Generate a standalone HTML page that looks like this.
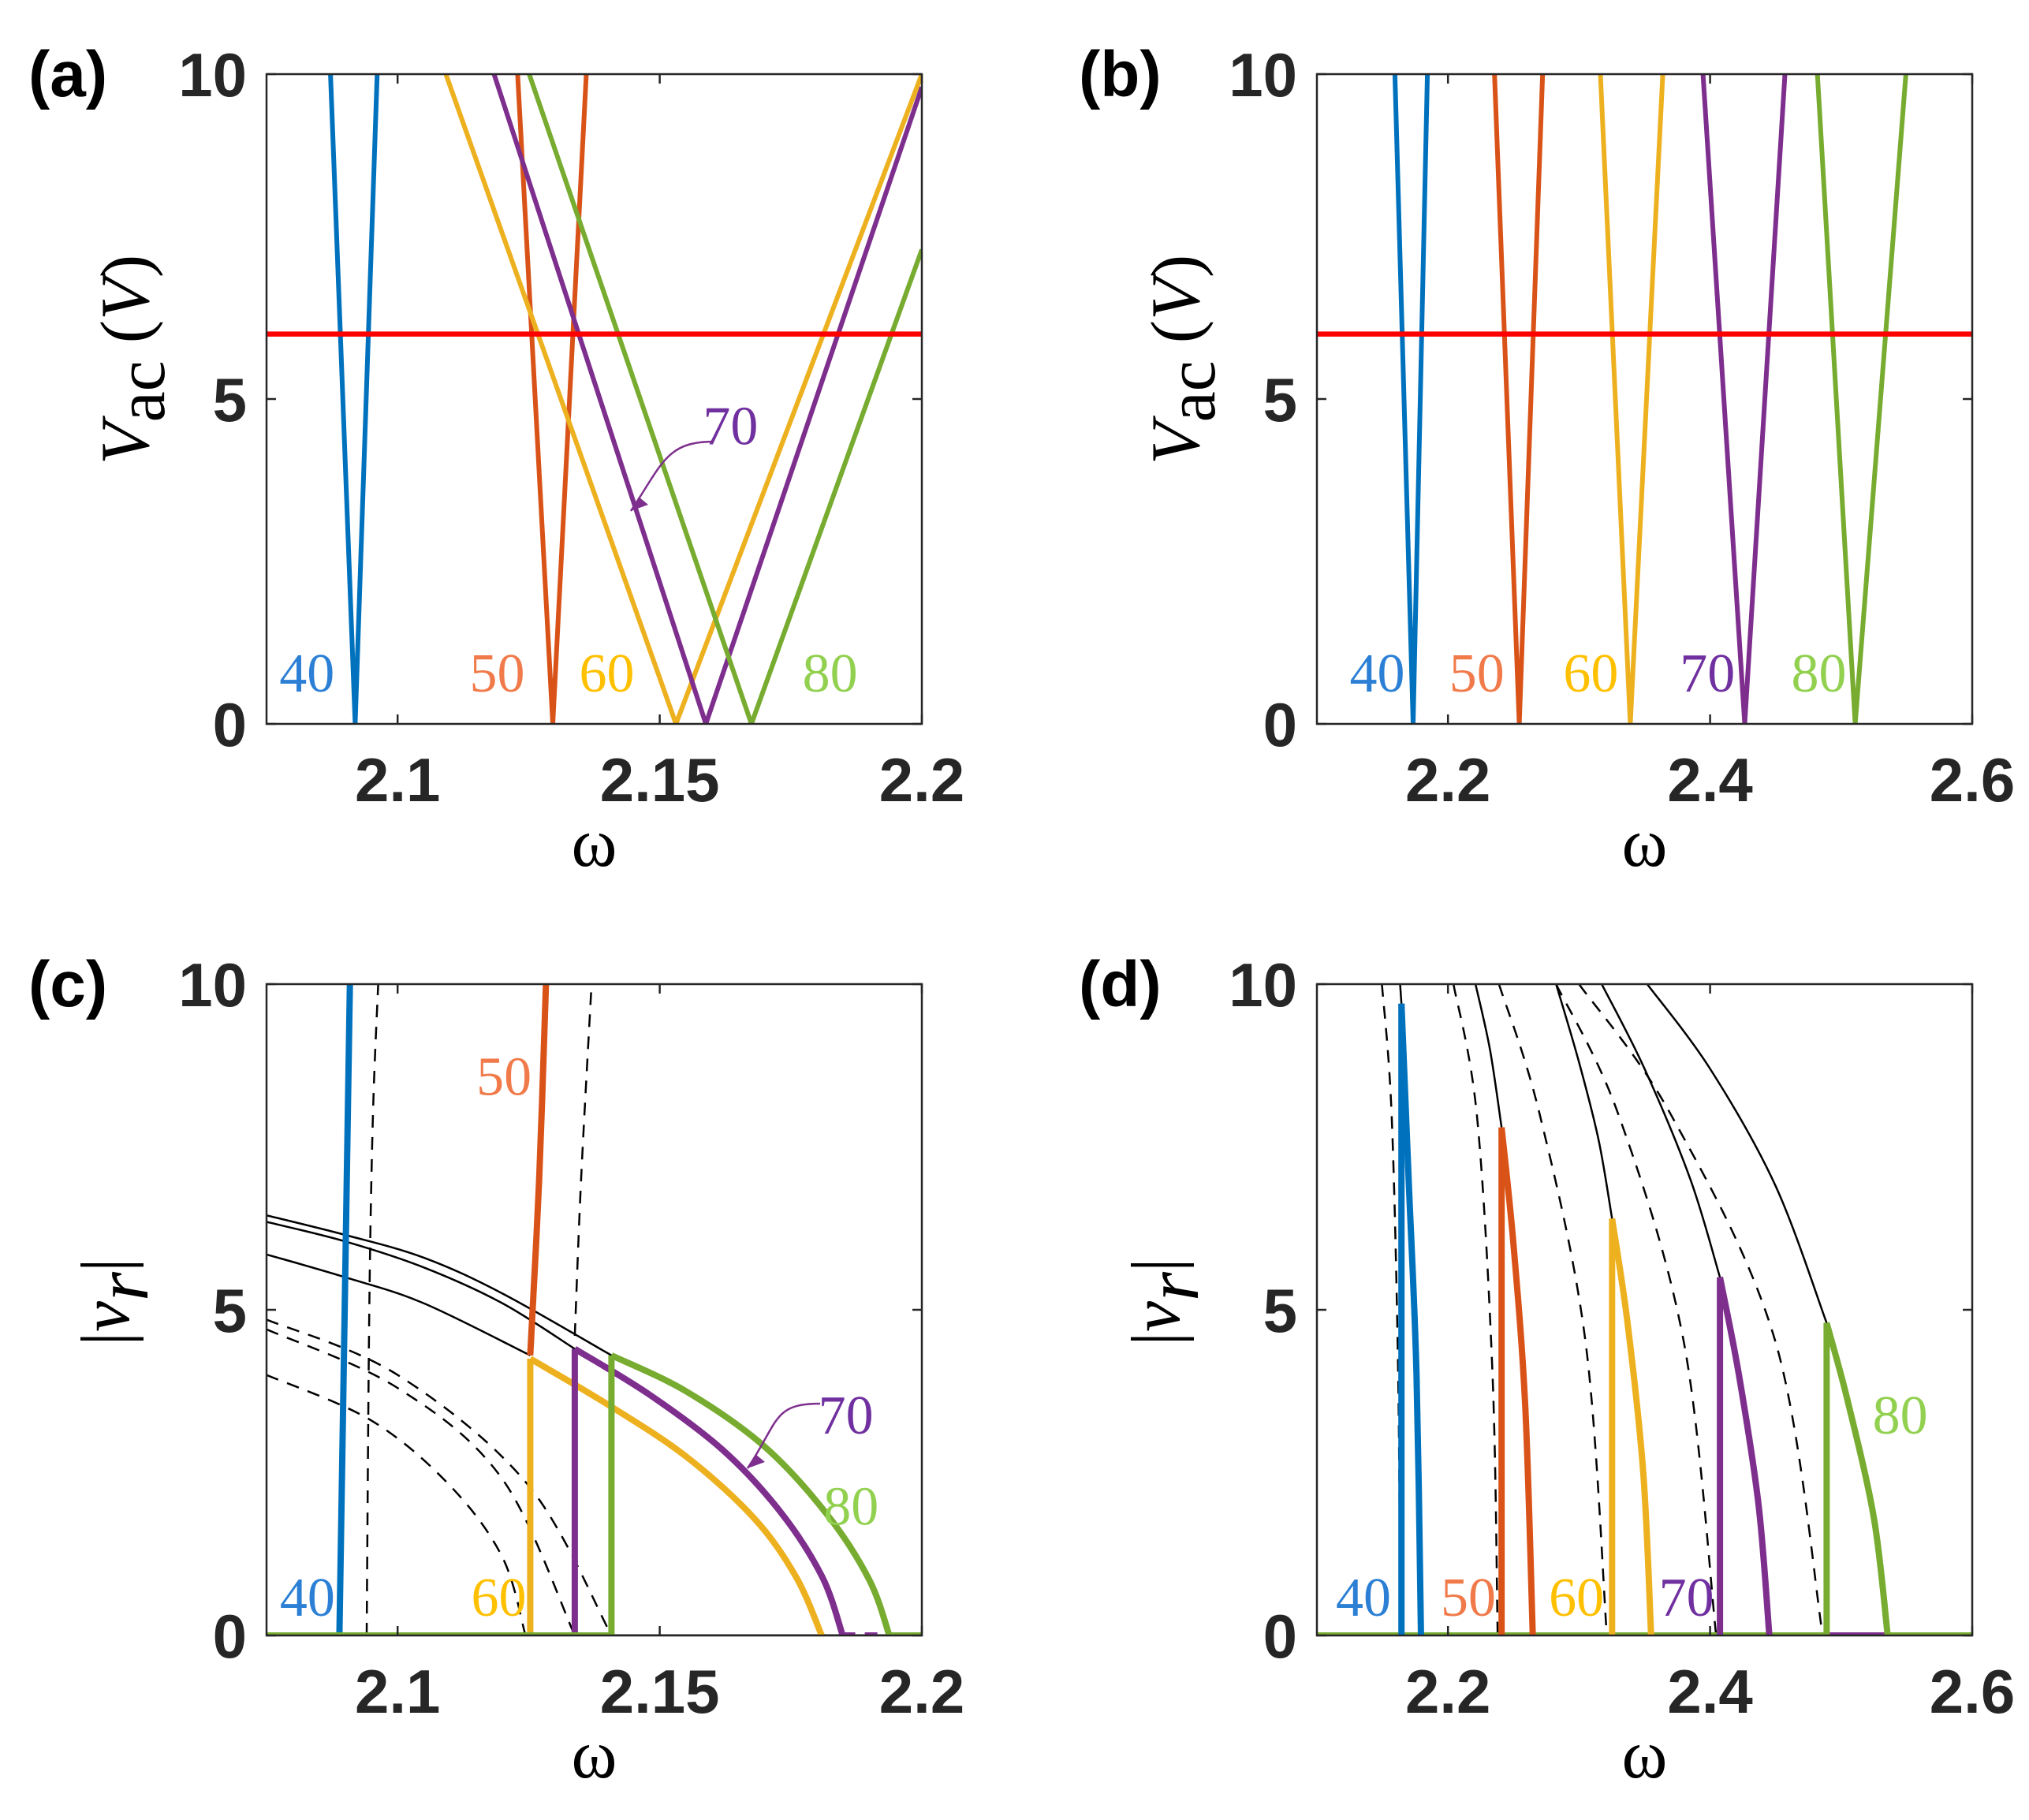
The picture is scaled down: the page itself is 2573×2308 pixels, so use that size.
<!DOCTYPE html>
<html><head><meta charset="utf-8"><style>
html,body{margin:0;padding:0;background:#fff}
svg{display:block}
.tk{font-family:"Liberation Sans",Arial,sans-serif;font-weight:bold;font-size:78px;fill:#262626}
.pl{font-family:"Liberation Sans",Arial,sans-serif;font-weight:bold;font-size:82px;fill:#000}
.ser{font-family:"Liberation Serif",serif;font-size:70px}
.ax{font-family:"Liberation Serif",serif;font-size:88px;fill:#000}
</style></head><body>
<svg id="fig" width="2573" height="2308" viewBox="0 0 2573 2308" xmlns="http://www.w3.org/2000/svg"></svg>
<script>
// ---- data ----
const seriesNames=["40","50","60","70","80"];
const colors=["#0072BD","#D95319","#EDB120","#7E2F8E","#77AC30"];
const labelColors=["#2b7fd4","#f07a4a","#ffc000","#7030a0","#92d050"];
const yTicks=[0,5,10];
const xTicksA=[2.1,2.15,2.2];
const xTicksB=[2.2,2.4,2.6];
const redLevel=6;
// panel a: V-shapes
const aLeft=[2.0872,2.1229,2.1092,2.1184,2.1251];
const aVertex=[2.0919,2.1296,2.1531,2.1588,2.1675];
const aRight=[2.0961,2.1360,2.2,2.2,2.2];
const aRightV=[10,10,10,9.8,7.3];
// panel b
const bLeft=[2.1595,2.2355,2.3163,2.3946,2.4819];
const bVertex=[2.1734,2.2544,2.3391,2.4264,2.5107];
const bRight=[2.1843,2.2722,2.3639,2.4571,2.5494];
// panel c
const cBlue=[[2.0889,0],[2.0899,5],[2.0909,10]];
const cDashBlue=[[2.0941,0],[2.0946,5],[2.0953,8],[2.0963,10]];
const cOrange=[[2.1253,4.3],[2.1270,7],[2.1283,10]];
const cDashOrange=[[2.1338,4.6],[2.1350,7],[2.1370,10]];
const cSolid=[
 [[2.075,5.85],[2.09,5.5],[2.105,5.1],[2.1253,4.3]],
 [[2.075,6.35],[2.09,6.05],[2.105,5.65],[2.12,5.1],[2.1338,4.4]],
 [[2.075,6.45],[2.09,6.15],[2.105,5.8],[2.12,5.25],[2.1408,4.3]]];
const cDashed=[
 [[2.075,4.0],[2.095,3.3],[2.11,2.3],[2.12,1.2],[2.1244,0]],
 [[2.075,4.7],[2.10,3.8],[2.12,2.4],[2.1338,0]],
 [[2.075,4.85],[2.10,4.0],[2.125,2.3],[2.1408,0]]];
const cUpperIdx=[2,3,4];
const cJump=[2.1253,2.1338,2.1408];
const cUpper=[
 [[2.1253,4.25],[2.14,3.55],[2.155,2.75],[2.168,1.8],[2.176,0.9],[2.1809,0]],
 [[2.1338,4.4],[2.148,3.7],[2.162,2.85],[2.173,1.9],[2.181,0.9],[2.1849,0]],
 [[2.1408,4.3],[2.155,3.75],[2.17,2.9],[2.182,1.85],[2.190,0.85],[2.1938,0]]];
// panel d
const dJump=[2.1645,2.2409,2.3252,2.4075,2.4889];
const dUpper=[
 [[2.1645,9.7],[2.170,7],[2.176,4],[2.1794,0]],
 [[2.2409,7.8],[2.250,6],[2.259,3.5],[2.2647,0]],
 [[2.3252,6.4],[2.337,4.8],[2.349,2.5],[2.355,0]],
 [[2.4075,5.5],[2.422,4],[2.437,2],[2.4452,0]],
 [[2.4889,4.8],[2.505,3.6],[2.525,1.8],[2.5355,0]]];
const dSolid=[
 [[2.1635,10],[2.1645,9.7]],
 [[2.2210,10],[2.232,9],[2.2409,7.8]],
 [[2.2825,10],[2.300,8.8],[2.315,7.6],[2.3252,6.4]],
 [[2.3173,10],[2.350,8.7],[2.385,7.0],[2.4075,5.5]],
 [[2.3520,10],[2.400,8.7],[2.450,6.9],[2.4889,4.8]]];
const dDashed=[
 [[2.1496,10],[2.157,8],[2.162,4],[2.1635,0]],
 [[2.2042,10],[2.222,8],[2.234,4],[2.2379,0]],
 [[2.2389,10],[2.270,8],[2.305,4.5],[2.3212,0]],
 [[2.2825,10],[2.33,8],[2.38,4.5],[2.4046,0]],
 [[2.300,10],[2.37,8],[2.45,4.5],[2.4859,0]]];

// ---- drawing ----
const NS="http://www.w3.org/2000/svg";
const svg=document.getElementById('fig');
function el(tag,attrs,parent,text){const e=document.createElementNS(NS,tag);for(const k in attrs)e.setAttribute(k,attrs[k]);if(text!==undefined)e.textContent=text;(parent||svg).appendChild(e);return e;}
function panel(id,x0,y0,x1,y1,xmin,xmax){
 const g=el('g',{});
 
 
 const P={g,x0,y0,x1,y1,sx:w=>x0+(w-xmin)/(xmax-xmin)*(x1-x0),sy:v=>y1-v/10*(y1-y0)};
 const cp=el('clipPath',{id:'clip'+id},g);el('rect',{x:x0,y:y0,width:x1-x0,height:y1-y0},cp);
 P.plot=el('g',{'clip-path':'url(#clip'+id+')'},g);
 return P;
}
function frame(P,id,xt,xtl,ylabel){
 const f=el('rect',{x:P.x0,y:P.y0,width:P.x1-P.x0,height:P.y1-P.y0,fill:'none',stroke:'#262626','stroke-width':2.5},P.g);
 
 yTicks.forEach(v=>{const y=P.sy(v);
  el('line',{x1:P.x0,y1:y,x2:P.x0+12,y2:y,stroke:'#262626','stroke-width':2.5},P.g);
  el('line',{x1:P.x1,y1:y,x2:P.x1-12,y2:y,stroke:'#262626','stroke-width':2.5},P.g);
  const t=el('text',{x:P.x0-25,y:y+28,'text-anchor':'end',class:'tk'},P.g,String(v));
  });
 xt.forEach((w,i)=>{const x=P.sx(w);
  el('line',{x1:x,y1:P.y1,x2:x,y2:P.y1-12,stroke:'#262626','stroke-width':2.5},P.g);
  el('line',{x1:x,y1:P.y0,x2:x,y2:P.y0+12,stroke:'#262626','stroke-width':2.5},P.g);
  const t=el('text',{x:x,y:P.y1+98,'text-anchor':'middle',class:'tk'},P.g,xtl[i]);
  });
 const xl=el('text',{x:(P.x0+P.x1)/2,y:P.y1+180,'text-anchor':'middle',class:'ax'},P.g,'ω');
 
 const pl=el('text',{x:P.x0-302,y:P.y0+28,class:'pl'},P.g,'('+id+')');
 
 const cx=P.x0-170,cy=(P.y0+P.y1)/2-50;
 let yl;
 if(ylabel==='V'){
  yl=el('text',{x:cx,y:cy,transform:`rotate(-90 ${cx} ${cy})`,'text-anchor':'middle',class:'ax','font-size':118,'dominant-baseline':'middle'},P.g);
  el('tspan',{'font-style':'italic'},yl,'V');
  el('tspan',{'font-size':88,dy:20},yl,'ac');
  el('tspan',{dy:-20},yl,' (');el('tspan',{'font-style':'italic'},yl,'V');el('tspan',{},yl,')');
 } else {
  const cy2=(P.y0+P.y1)/2-10;
  yl=el('text',{x:cx-25,y:cy2,transform:`rotate(-90 ${cx-25} ${cy2})`,'text-anchor':'middle',class:'ax','font-size':140,'dominant-baseline':'middle'},P.g);
  el('tspan',{},yl,'|');el('tspan',{'font-style':'italic'},yl,'v');
  el('tspan',{'font-style':'italic','font-size':95,dy:22},yl,'r');el('tspan',{dy:-22},yl,'|');
 }
 
}
function pathD(P,pts,smooth){
 const p=pts.map(q=>[P.sx(q[0]),P.sy(q[1])]);
 if(!smooth||p.length<3)return 'M'+p.map(q=>q[0].toFixed(1)+','+q[1].toFixed(1)).join('L');
 let d='M'+p[0][0]+','+p[0][1];
 for(let i=0;i<p.length-1;i++){const a=p[Math.max(0,i-1)],b=p[i],c=p[i+1],e=p[Math.min(p.length-1,i+2)];
  d+=`C${b[0]+(c[0]-a[0])/6},${b[1]+(c[1]-a[1])/6} ${c[0]-(e[0]-b[0])/6},${c[1]-(e[1]-b[1])/6} ${c[0]},${c[1]}`;}
 return d;
}
function line(P,pts,col,w,name,dash,smooth){
 const a={d:pathD(P,pts,smooth),fill:'none',stroke:col,'stroke-width':w,'stroke-linejoin':'round'};
 if(dash)a['stroke-dasharray']=dash;
 const e=el('path',a,P.plot);
 return e;
}
function label(P,txt,w,v,col,name){
 const t=el('text',{x:P.sx(w),y:P.sy(v),fill:col,class:'ser','text-anchor':'middle'},P.g,txt);
 
}
function arrowAnn(P,x1,y1,x2,y2,name){
 const c=el('path',{d:`M${x1},${y1} C${x1-60},${y1} ${x2+40},${y2-60} ${x2},${y2}`,fill:'none',stroke:'#7E2F8E','stroke-width':2.5},P.g);
 
 el('path',{d:`M${x2},${y2} l10,-18 l12,10 z`,fill:'#7E2F8E'},P.g);
}
const DASH='16,12';
// Panel a
const A=panel('a',338,94,1169,918,2.075,2.2);
seriesNames.forEach((n,i)=>line(A,[[aLeft[i],10],[aVertex[i],0],[aRight[i],aRightV[i]]],colors[i],6,'line-a-'+n));
line(A,[[2.075,redLevel],[2.2,redLevel]],'#FF0000',6.5,'threshold-line-a');
frame(A,'a',xTicksA,['2.1','2.15','2.2'],'V');
[[2.0827,'40'],[2.1190,'50'],[2.1399,'60'],[2.1825,'80']].forEach(([w,t])=>{const i=seriesNames.indexOf(t);label(A,t,w,0.5,labelColors[i],'series-label-a-'+t);});
label(A,'70',2.1635,4.3,labelColors[3],'series-label-a-70');
arrowAnn(A,905,560,800,648,'annotation-arrow-a');
// Panel b
const B=panel('b',1670,94,2501,918,2.1,2.6);
seriesNames.forEach((n,i)=>line(B,[[bLeft[i],10],[bVertex[i],0],[bRight[i],10]],colors[i],6,'line-b-'+n));
line(B,[[2.1,redLevel],[2.6,redLevel]],'#FF0000',6.5,'threshold-line-b');
frame(B,'b',xTicksB,['2.2','2.4','2.6'],'V');
[2.146,2.222,2.309,2.398,2.483].forEach((w,i)=>label(B,seriesNames[i],w,0.5,labelColors[i],'series-label-b-'+seriesNames[i]));
// Panel c
const C=panel('c',338,1248,1169,2074,2.075,2.2);
line(C,[[2.075,0],[2.2,0]],'#000',3,'baseline-c');
cSolid.forEach((s,i)=>line(C,s,'#000',2.5,'stable-branch-c-'+seriesNames[cUpperIdx[i]],null,true));
cDashed.forEach((s,i)=>line(C,s,'#000',2.5,'unstable-branch-c-'+seriesNames[cUpperIdx[i]],DASH,true));
line(C,cDashBlue,'#000',2.5,'unstable-branch-c-40',DASH,true);
line(C,cDashOrange,'#000',2.5,'unstable-branch-c-50',DASH,true);
line(C,cBlue,colors[0],8,'response-c-40');
line(C,cOrange,colors[1],8,'response-c-50',null,true);
line(C,[[cUpper[1][5][0],0],[cUpper[2][5][0],0]],colors[3],8,'zero-segment-c-70',DASH);
cUpper.forEach((s,i)=>{const k=cUpperIdx[i];
 line(C,[[cJump[i],0],[cJump[i],s[0][1]]],colors[k],8,'jump-c-'+seriesNames[k]);
 line(C,s,colors[k],8,'response-c-'+seriesNames[k],null,true);});
line(C,[[2.075,0],[cJump[2],0]],colors[4],8,'zero-branch-c-80a');
line(C,[[cUpper[2][5][0],0],[2.2,0]],colors[4],8,'zero-branch-c-80b');
frame(C,'c',xTicksA,['2.1','2.15','2.2'],'v');
label(C,'40',2.0828,0.3,labelColors[0],'series-label-c-40');
label(C,'50',2.1203,8.3,labelColors[1],'series-label-c-50');
label(C,'60',2.1193,0.3,labelColors[2],'series-label-c-60');
label(C,'80',2.1865,1.7,labelColors[4],'series-label-c-80');
label(C,'70',2.1855,3.1,labelColors[3],'series-label-c-70');
arrowAnn(C,1040,1780,948,1862,'annotation-arrow-c');
// Panel d
const D=panel('d',1670,1248,2501,2074,2.1,2.6);
dSolid.forEach((s,i)=>line(D,s,'#000',2.5,'stable-branch-d-'+seriesNames[i],null,true));
dDashed.forEach((s,i)=>line(D,s,'#000',2.5,'unstable-branch-d-'+seriesNames[i],DASH,true));
line(D,[[2.1,0],[2.6,0]],colors[4],8,'zero-branch-d');
line(D,[[dJump[4],0],[dUpper[4][3][0],0]],colors[3],8,'zero-segment-d-70');
dUpper.forEach((s,i)=>{
 line(D,[[dJump[i],0],[dJump[i],s[0][1]]],colors[i],8,'jump-d-'+seriesNames[i]);
 line(D,s,colors[i],8,'response-d-'+seriesNames[i],null,true);});
frame(D,'d',xTicksB,['2.2','2.4','2.6'],'v');
[2.1355,2.2155,2.298,2.382].forEach((w,i)=>label(D,seriesNames[i],w,0.3,labelColors[i],'series-label-d-'+seriesNames[i]));
label(D,'80',2.545,3.1,labelColors[4],'series-label-d-80');
</script>
</body></html>
